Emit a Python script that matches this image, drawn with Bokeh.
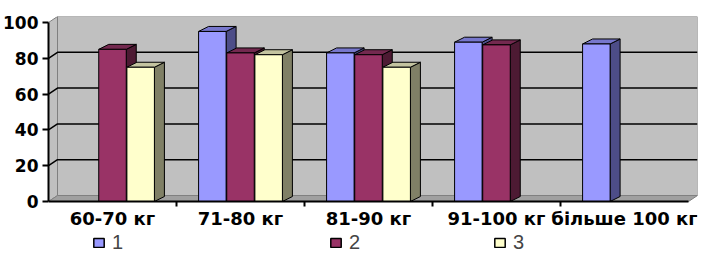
from bokeh.plotting import figure
from bokeh.models import Range1d, FixedTicker, Legend, LegendItem, ColumnDataSource
from bokeh.embed import file_html
from bokeh.resources import INLINE

# ---- data ----
categories = ["60-70 кг", "71-80 кг", "81-90 кг", "91-100 кг", "більше 100 кг"]
series_names = ["1", "2", "3"]
series1 = [None, 95, 83, 89, 88]
series2 = [85, 83, 82, 87.5, None]
series3 = [75, 82, 75, None, None]
y_ticks = [0, 20, 40, 60, 80, 100]

# ---- style ----
front_colors = ["#9999FF", "#993366", "#FFFFCC"]
side_colors = ["#4D4D88", "#4D1A33", "#808066"]
top_colors = ["#7777CC", "#73294F", "#C4C4A0"]

PX_X = 128.0   # pixels per category
PX_Y = 1.79    # pixels per value unit
DX = 9 / PX_X  # wall depth (x)
DY = 6 / PX_Y  # wall depth (y)
BDX = 10 / PX_X
BDY = 5 / PX_Y
BAR_W = 0.215
OFFSETS = [-0.22, 0.0, 0.22]
FRAME_H = 238
TOP_PX = (max(y_ticks) + DY) * PX_Y
BELOW_PX = FRAME_H - TOP_PX  # room under the value axis for labels and legend

n = len(categories)
ymax = max(y_ticks)
all_series = [series1, series2, series3]
NAN = float("nan")

p = figure(frame_width=649, frame_height=FRAME_H,
           x_range=Range1d(0, n + DX), y_range=Range1d(-BELOW_PX / PX_Y, ymax + DY),
           output_backend="svg", toolbar_location=None,
           min_border_left=45, min_border_right=9, min_border_top=16, min_border_bottom=0)
p.outline_line_color = None
p.xgrid.visible = False
p.ygrid.visible = False
p.background_fill_color = "white"
p.border_fill_color = "white"

# walls and floor
p.patch([0, 0, DX, DX], [0, ymax, ymax + DY, DY], fill_color="#C0C0C0", line_color="#808080", line_width=1)
p.quad(left=[DX], right=[n + DX], bottom=[DY], top=[ymax + DY], fill_color="#C0C0C0", line_color="#808080", line_width=1)
p.patch([0, n, n + DX, DX], [0, 0, DY, DY], fill_color="#A0A0A0", line_color="#808080", line_width=1)

# gridlines on left and back wall
gx, gy = [], []
for t in y_ticks[1:-1]:
    gx.append([0, DX, n + DX])
    gy.append([t, t + DY, t + DY])
p.multi_line(gx, gy, line_color="black", line_width=1.5)

# 3D bars
xs, ys, fc = [], [], []
for i in range(n):
    for s, ser in enumerate(all_series):
        v = ser[i]
        if v is None:
            continue
        xl = i + 0.5 + OFFSETS[s] - BAR_W / 2
        xr = xl + BAR_W
        xs.append([xr, xr + BDX, xr + BDX, xr]); ys.append([0, BDY, v + BDY, v]); fc.append(side_colors[s])
        xs.append([xl, xr, xr + BDX, xl + BDX]); ys.append([v, v, v + BDY, v + BDY]); fc.append(top_colors[s])
        xs.append([xl, xr, xr, xl]); ys.append([0, 0, v, v]); fc.append(front_colors[s])
p.patches("xs", "ys", fill_color="fc", line_color="black", line_width=1,
          source=ColumnDataSource(dict(xs=xs, ys=ys, fc=fc)))

# axes
p.yaxis.ticker = FixedTicker(ticks=y_ticks)
p.yaxis.bounds = (0, ymax)
p.yaxis.minor_tick_line_color = None
p.yaxis.major_tick_in = 0
p.yaxis.major_tick_out = 6
p.yaxis.major_label_standoff = 4
p.yaxis.axis_line_width = 2
p.yaxis.major_tick_line_width = 2

p.xaxis.fixed_location = 0
p.xaxis.ticker = FixedTicker(ticks=[i + 0.5 for i in range(n)], minor_ticks=list(range(1, n)))
p.xaxis.major_label_overrides = {i + 0.5: c for i, c in enumerate(categories)}
p.xaxis.bounds = (0, n)
p.xaxis.major_tick_line_color = None
p.xaxis.major_tick_out = 0
p.xaxis.major_tick_in = 0
p.xaxis.minor_tick_in = 0
p.xaxis.minor_tick_out = 5
p.xaxis.minor_tick_line_width = 2
p.xaxis.major_label_standoff = 1
p.xaxis.axis_line_width = 2

p.yaxis.major_label_text_font_size = "17px"
p.xaxis.major_label_text_font_size = "18px"
for ax in (p.xaxis[0], p.yaxis[0]):
    ax.axis_line_color = "black"
    ax.major_label_text_font = "DejaVu Sans"
    ax.major_label_text_font_style = "bold"
    ax.major_label_text_color = "black"

# legend entries under the category labels
leg_x = [44, 281, 445]
for s, name in enumerate(series_names):
    r = p.quad(left=[NAN], right=[NAN], top=[NAN], bottom=[NAN],
               fill_color=front_colors[s], line_color="black", line_width=1.5)
    leg = Legend(items=[LegendItem(label=name, renderers=[r])], location=(leg_x[s], 0),
                 orientation="horizontal", border_line_color=None, background_fill_alpha=0,
                 padding=0, margin=0, glyph_width=13, glyph_height=11, label_standoff=7,
                 label_text_font="Liberation Sans", label_text_font_size="20px",
                 label_height=18, spacing=0)
    p.add_layout(leg)

open("out.html", "w").write(file_html(p, INLINE))
